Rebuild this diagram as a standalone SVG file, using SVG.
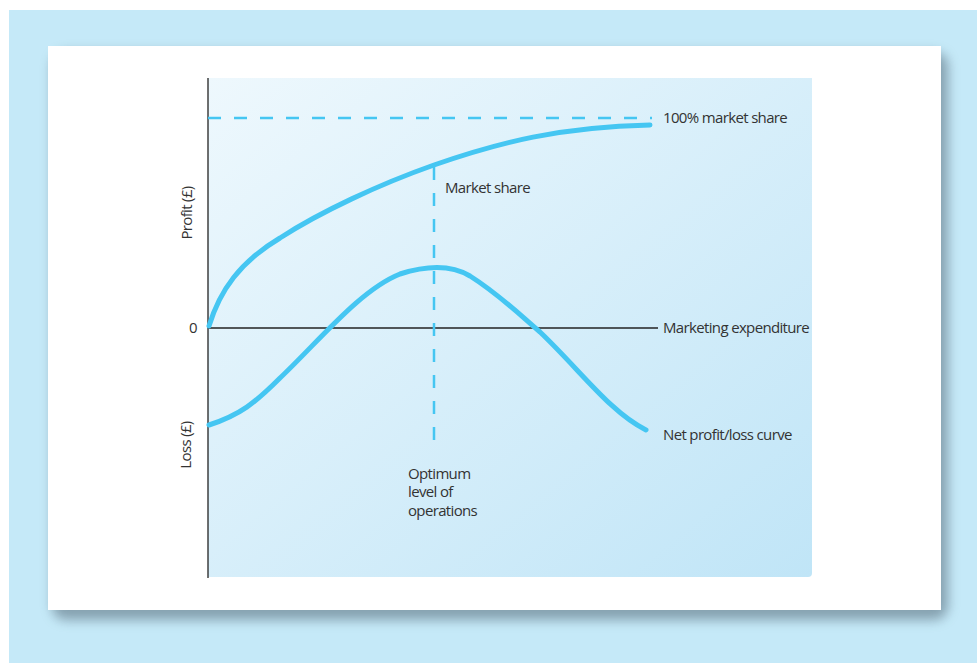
<svg xmlns="http://www.w3.org/2000/svg" width="977" height="663" viewBox="0 0 977 663">
<defs>
<linearGradient id="bg" x1="0" y1="0" x2="1" y2="1">
<stop offset="0" stop-color="#eef8fd"/>
<stop offset="1" stop-color="#c0e5f7"/>
</linearGradient>
<filter id="sh" x="-10%" y="-10%" width="120%" height="130%">
<feGaussianBlur stdDeviation="6"/>
</filter>
<style>
.t{font-family:"Open Sans","Liberation Sans",sans-serif;font-size:15px;fill:#333;letter-spacing:-0.65px}
.c{fill:none;stroke:#45c6f2;stroke-width:5;stroke-linecap:round}
.d{fill:none;stroke:#45c6f2;stroke-width:2.5;stroke-dasharray:13 13}
.ax{stroke:#222;stroke-width:1.3;fill:none}
</style>
</defs>
<rect x="0" y="0" width="977" height="663" fill="#ffffff"/>
<rect x="9" y="10" width="968" height="653" fill="#c5e9f8"/>
<rect x="52" y="52" width="896" height="568" rx="14" fill="#7f9aa8" filter="url(#sh)" opacity="0.9"/>
<rect x="48" y="46" width="893" height="564" fill="#ffffff"/>
<g id="plot">
<path d="M208 78 H812 V573 Q812 577 808 577 H208 Z" fill="url(#bg)"/>
</g>
<g id="axes">
<line class="ax" x1="208" y1="78" x2="208" y2="578"/>
<line class="ax" x1="208" y1="328" x2="658" y2="328"/>
</g>
<g id="connectors">
<line class="d" x1="208" y1="118" x2="652" y2="118"/>
<line class="d" x1="434" y1="167" x2="434" y2="447"/>
</g>
<g id="market-share-curve">
<path class="c" d="M209 326 C220 290 240 262 280 238 C320 212 380 184 434 165 C500 142 560 127 650 125"/>
</g>
<g id="net-profit-curve">
<path class="c" d="M209 425 C240 415 255 403 280 378 C320 340 360 290 400 274 C425 266 450 264 470 276 C500 295 520 315 540 332 C580 370 610 412 646 430"/>
</g>
<g id="labels">
<text class="t" x="663" y="123">100% market share</text>
<text class="t" x="445" y="193">Market share</text>
<text class="t" x="189" y="333">0</text>
<text class="t" x="663" y="333">Marketing expenditure</text>
<text class="t" x="663" y="440">Net profit/loss curve</text>
<text class="t" x="408" y="479">Optimum</text>
<text class="t" x="408" y="497">level of</text>
<text class="t" x="408" y="516">operations</text>
<text class="t" transform="translate(192 213) rotate(-90)" text-anchor="middle">Profit (£)</text>
<text class="t" transform="translate(191 445) rotate(-90)" text-anchor="middle">Loss (£)</text>
</g>
</svg>
